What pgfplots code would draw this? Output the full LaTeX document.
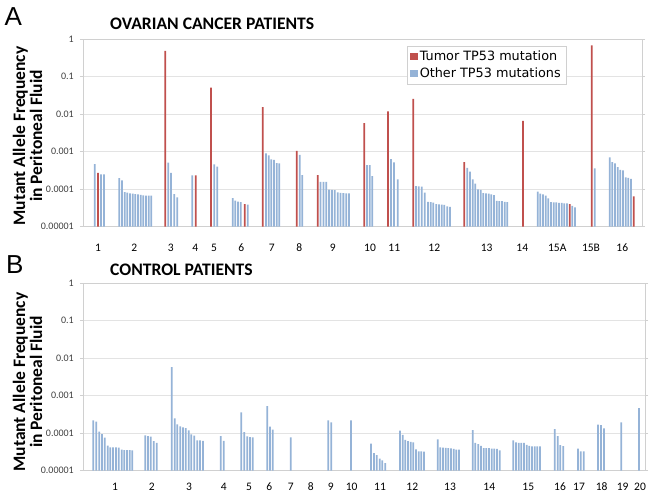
\documentclass[border=0pt]{standalone}
\usepackage{pgfplots}
\pgfplotsset{compat=1.18}
\usepackage{fontspec}
\setmainfont{Carlito}
\newfontfamily\legfont{DejaVu Sans}
\newfontfamily\letfont{Liberation Sans}
\definecolor{tred}{HTML}{C0504D}
\definecolor{oblue}{HTML}{95B3D7}
\definecolor{gridc}{HTML}{E3E3E3}
\definecolor{framec}{HTML}{D0D0D0}
\definecolor{ticklab}{HTML}{404040}
\pgfplotsset{
  every axis/.append style={
    scale only axis,
    yticklabel style={font=\fontsize{10bp}{12bp}\selectfont, text=ticklab, anchor=east, inner sep=0pt, xshift=-6bp},
    xticklabel style={font=\fontsize{11.5bp}{13bp}\selectfont, text=black, anchor=center, inner sep=0pt},
    major grid style={gridc, line width=0.6bp},
    axis line style={framec, line width=0.7bp},
    tick align=outside, major tick length=3bp,
    ytick style={framec, line width=0.6bp},
    xtick style={draw=none},
  },
}
\begin{document}
\begin{tikzpicture}
\path[use as bounding box] (0,0) rectangle (655bp,-493bp);
% ---------------- Panel A ----------------
\begin{axis}[at={(83bp,-226.7bp)}, anchor=south west, width=559bp, height=187.4bp,
  ymode=log, ymin=1e-5, ymax=1, log origin=infty,
  ytick={1e-5,1e-4,1e-3,1e-2,1e-1,1},
  yticklabels={0.00001,0.0001,0.001,0.01,0.1,1},
  ymajorgrids, yminorticks=false,
  ybar, bar width=1.8,
  xmin=83, xmax=642,
  xticklabel style={yshift=-18.3bp},
  xtick={98,134.3,170.7,195.3,214,241.3,271.7,299.3,332.7,370,394.3,434.3,486.7,522.3,557.3,591,622.3},
  xticklabels={1,2,3,4,5,6,7,8,9,10,11,12,13,14,15A,15B,16},
  legend style={at={(0.579,0.963)}, anchor=north west, draw=framec, fill=white,
    font=\legfont\fontsize{12.8bp}{14bp}\selectfont, inner xsep=3.5bp, inner ysep=2.5bp,
    row sep=2bp},
  legend image code/.code={\fill[#1] (0bp,-3.7bp) rectangle (7.4bp,3.7bp);},
  legend cell align=left,
]
\addplot[fill=tred, draw=none, bar shift=0pt] coordinates {
(98,2.75e-4) (165.3,0.493) (195.7,2.34e-4) (211,0.051) (244.7,4.0e-5)
(262.7,0.0155) (296.7,1.06e-3) (317.7,2.39e-4) (364.3,5.8e-3) (388,0.0119)
(413.3,0.0259) (464.3,5.3e-4) (523,6.7e-3) (569.7,4.0e-5) (591.7,0.686) (633.7,6.4e-5)
};
\addlegendentry{Tumor TP53 mutation}
\addplot[fill=oblue, draw=none, bar shift=0pt] coordinates {
(94.7,4.7e-4) (101,2.5e-4) (104,2.5e-4)
(119.3,1.99e-4) (122,1.72e-4) (124.7,8.4e-5) (127.3,8.1e-5) (130,7.7e-5) (132.7,7.6e-5) (135.3,7.4e-5) (138,7.3e-5) (140.7,7.1e-5) (143.3,6.9e-5) (146,6.8e-5) (148.7,6.7e-5) (151.3,6.7e-5)
(168.3,5.1e-4) (171,2.75e-4) (174.3,7.4e-5) (177.3,6.1e-5)
(192.3,2.34e-4)
(214.3,4.6e-4) (217.3,4.0e-4)
(232.7,5.8e-5) (235.3,5.0e-5) (238,4.7e-5) (240.7,4.5e-5) (247.7,3.9e-5)
(266,9.0e-4) (268.7,8.0e-4) (271.3,6.3e-4) (274,6.1e-4) (276.7,5.0e-4) (279.3,4.9e-4)
(299.7,8.3e-4) (302.3,2.39e-4)
(320.55,1.58e-4) (323.4,1.58e-4) (326.25,1.58e-4) (329.1,9.7e-5) (331.95,9.6e-5) (334.8,9.4e-5) (337.65,8.2e-5) (340.5,8.0e-5) (343.35,7.9e-5) (346.2,7.7e-5) (349.05,7.7e-5)
(367,4.4e-4) (369.7,4.4e-4) (372.3,2.24e-4)
(391,6.4e-4) (394,5.2e-4) (397.7,1.83e-4)
(416,1.21e-4) (418.7,1.2e-4) (421.7,1.18e-4) (424.7,8.1e-5) (428,4.6e-5) (430.7,4.5e-5) (433.3,4.4e-5) (436.3,4.0e-5) (439,3.95e-5) (441.7,3.9e-5) (444.3,3.8e-5) (447.3,3.5e-5) (450,3.4e-5)
(467.3,3.7e-4) (470,2.93e-4) (472.7,1.83e-4) (475.3,1.4e-4) (478,9.9e-5) (480.7,9.6e-5) (483.3,7.9e-5) (486,7.7e-5) (488.7,7.6e-5) (491.3,7.3e-5) (494,7.0e-5) (496.7,4.9e-5) (499.3,4.8e-5) (502,4.8e-5) (504.7,4.6e-5) (507.3,4.55e-5)
(537.7,8.6e-5) (540.3,7.6e-5) (543,7.3e-5) (545.7,6.8e-5) (548.3,5.7e-5) (551,4.5e-5) (553.7,4.45e-5) (556.3,4.45e-5) (559,4.35e-5) (561.7,4.3e-5) (564.3,4.2e-5) (567,4.2e-5) (572.3,3.6e-5) (575,3.3e-5)
(594.7,3.6e-4)
(609.7,7.1e-4) (612.3,5.3e-4) (615,4.9e-4) (617.7,3.9e-4) (620.3,3.3e-4) (623,3.2e-4) (625.7,2.07e-4) (628.3,2.0e-4) (631,1.9e-4)
};
\addlegendentry{Other TP53 mutations}
\end{axis}
% ---------------- Panel B ----------------
\begin{axis}[at={(83bp,-470.7bp)}, anchor=south west, width=562bp, height=187.4bp,
  ymode=log, ymin=1e-5, ymax=1, log origin=infty,
  ytick={1e-5,1e-4,1e-3,1e-2,1e-1,1},
  yticklabels={0.00001,0.0001,0.001,0.01,0.1,1},
  ymajorgrids, yminorticks=false,
  ybar, bar width=1.8,
  xmin=83, xmax=645,
  xticklabel style={yshift=-13.3bp},
  xtick={115,151.7,189,223.7,249,269.3,290.7,310.7,330.7,351.7,380,412.3,450,489.3,528.3,560,579,601.7,622.7,640},
  xticklabels={1,2,3,4,5,6,7,8,9,10,11,12,13,14,15,16,17,18,19,20},
]
\addplot[fill=oblue, draw=none, bar shift=0pt] coordinates {
(93.3,2.2e-4) (96.3,2.03e-4) (99.3,1.1e-4) (102,9.5e-5) (104.7,7.6e-5) (107.7,4.7e-5) (110.3,4.2e-5) (113,4.2e-5) (116,4.2e-5) (118.7,4.1e-5) (121.7,3.63e-5) (124.3,3.56e-5) (127,3.56e-5) (129.7,3.56e-5) (132.3,3.5e-5)
(145.3,8.8e-5) (148,8.4e-5) (150.7,8.1e-5) (153.7,6.2e-5) (156.7,5.5e-5)
(171.7,5.8e-3) (174.7,2.5e-4) (177.3,1.72e-4) (180.3,1.52e-4) (183,1.43e-4) (185.7,1.37e-4) (188.7,1.19e-4) (191.3,9.3e-5) (194.3,8.6e-5) (197.3,6.4e-5) (200,6.4e-5) (203,6.3e-5)
(220.7,8.4e-5) (223.7,6.3e-5)
(241.3,3.6e-4) (244.3,1.07e-4) (247.3,8.2e-5) (250,7.9e-5) (252.7,7.7e-5)
(267.3,5.3e-4) (270,1.49e-4) (272.7,1.24e-4)
(290.7,7.7e-5)
(328.3,2.2e-4) (331.3,1.95e-4)
(351,2.2e-4)
(371,5.25e-5) (374,2.96e-5) (376.7,2.6e-5) (379.7,2.1e-5) (382.3,1.9e-5) (385.3,1.6e-5)
(400,1.17e-4) (402.7,9.1e-5) (405.3,6.6e-5) (408,6.2e-5) (410.7,5.9e-5) (413.3,5.7e-5) (416,3.7e-5) (418.7,3.3e-5) (421.3,3.3e-5) (424,3.25e-5)
(437.7,6.9e-5) (440.3,4.2e-5) (443,4.1e-5) (445.7,4.05e-5) (448.3,4.0e-5) (451,3.95e-5) (453.7,3.8e-5) (456.3,3.65e-5) (459,3.65e-5)
(472.7,1.21e-4) (475.3,5.5e-5) (478.3,5.1e-5) (481,4.6e-5) (483.7,4.0e-5) (486.3,4.0e-5) (489,4.0e-5) (491.7,3.9e-5) (494.3,3.9e-5) (497,3.85e-5) (499.7,3.5e-5)
(513.3,6.4e-5) (516,5.7e-5) (518.7,5.5e-5) (521.3,5.5e-5) (524,5.5e-5) (526.7,4.9e-5) (529.3,4.6e-5) (532,4.45e-5) (534.7,4.45e-5) (537.3,4.45e-5) (540,4.45e-5)
(554.7,1.29e-4) (557.7,8.4e-5) (560.3,4.8e-5) (563.3,4.55e-5)
(578,3.9e-5) (580.7,3.3e-5) (583.7,3.3e-5)
(598,1.69e-4) (601,1.65e-4) (604,1.35e-4)
(621.3,1.95e-4)
(639,4.7e-4)
};
\end{axis}
% ---------------- Texts ----------------
\node[anchor=base west, inner sep=0pt, font=\letfont\fontsize{26bp}{28bp}\selectfont] at (4.5bp,-25.5bp) {A};
\node[anchor=base west, inner sep=0pt, font=\letfont\fontsize{26bp}{28bp}\selectfont] at (6bp,-273.5bp) {B};
\node[anchor=base west, inner sep=0pt, font=\bfseries\fontsize{17.6bp}{20bp}\selectfont] at (110bp,-29.3bp) {OVARIAN CANCER PATIENTS};
\node[anchor=base west, inner sep=0pt, font=\bfseries\fontsize{17.6bp}{20bp}\selectfont] at (110bp,-275bp) {CONTROL PATIENTS};
\node[rotate=90, align=center, inner sep=0pt, font=\bfseries\fontsize{17.5bp}{17bp}\selectfont] at (27.5bp,-136bp) {Mutant Allele Frequency\\in Peritoneal Fluid};
\node[rotate=90, align=center, inner sep=0pt, font=\bfseries\fontsize{17.5bp}{17bp}\selectfont] at (27.5bp,-382bp) {Mutant Allele Frequency\\in Peritoneal Fluid};
\end{tikzpicture}
\end{document}
